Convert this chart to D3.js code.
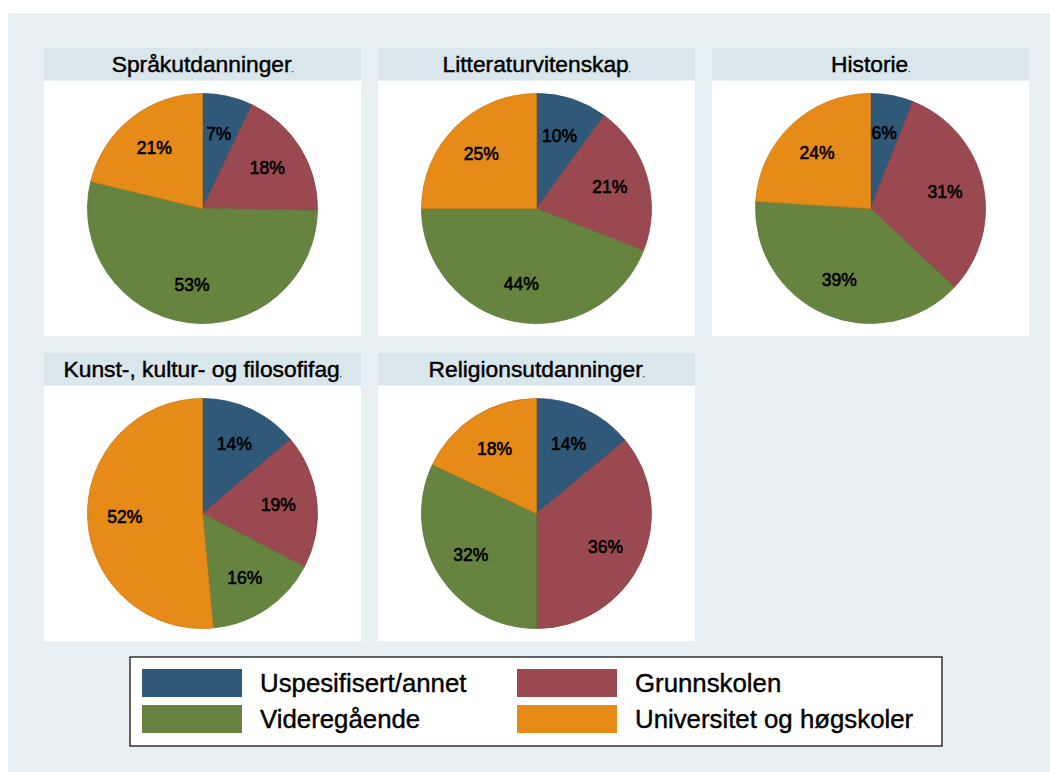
<!DOCTYPE html>
<html>
<head>
<meta charset="utf-8">
<script src="https://cdn.jsdelivr.net/npm/d3@7"></script>
<style>
  body { margin: 0; background: #fff; }
  text { font-family: Arial, "Liberation Sans", sans-serif; fill: #000; }
</style>
</head>
<body>
<svg id="chart" width="1050" height="772"></svg>
<script>
// data
const panels = ["Språkutdanninger", "Litteraturvitenskap", "Historie", "Kunst-, kultur- og filosofifag", "Religionsutdanninger"];
const categories = ["Uspesifisert/annet", "Grunnskolen", "Videregående", "Universitet og høgskoler"];
const shares = [
  [7, 18, 53, 21],
  [10, 21, 44, 25],
  [6, 31, 39, 24],
  [14, 19, 16, 52],
  [14, 36, 32, 18]
];
const colors = ["#2f5879", "#9a4950", "#66843f", "#e68a18"];

const width = 1050, height = 772;
const svg = d3.select("#chart");

// graph region
svg.append("rect")
  .attr("x", 8).attr("y", 13)
  .attr("width", width - 8).attr("height", height - 13)
  .attr("fill", "#e8f0f3");

const panelW = 317, stripH = 32, plotH = 255;
const colX = d3.scalePoint().domain([0, 1, 2]).range([44, 712]);
const rowY = d3.scalePoint().domain([0, 1]).range([48, 353]);
const color = d3.scaleOrdinal(categories, colors);

const pie = d3.pie().sort(null).value(d => d.value);
const radius = 115;
const arc = d3.arc().innerRadius(0).outerRadius(radius);
const labelArc = d3.arc().innerRadius(radius * 0.67).outerRadius(radius * 0.67);

panels.forEach((name, i) => {
  const x0 = colX(i % 3), y0 = rowY(Math.floor(i / 3));
  const g = svg.append("g").attr("transform", `translate(${x0},${y0})`);

  g.append("rect")
    .attr("width", panelW).attr("height", stripH)
    .attr("fill", "#d9e6ec");
  g.append("text")
    .attr("x", panelW / 2).attr("y", stripH / 2 + 8)
    .attr("text-anchor", "middle")
    .attr("font-size", 22.8)
    .attr("stroke", "#000").attr("stroke-width", 0.45)
    .text(name)
    .append("tspan").attr("font-size", 6).text(".");

  g.append("rect")
    .attr("y", stripH + 1)
    .attr("width", panelW).attr("height", plotH)
    .attr("fill", "#fff");

  const data = categories.map((c, j) => ({cat: c, value: shares[i][j]}));
  const arcs = pie(data);
  const pg = g.append("g")
    .attr("transform", `translate(${panelW / 2},${stripH + 1 + plotH / 2})`);

  pg.selectAll("path")
    .data(arcs)
    .join("path")
      .attr("d", arc)
      .attr("fill", d => color(d.data.cat))
      .attr("stroke", d => d3.color(color(d.data.cat)).darker(0.3))
      .attr("stroke-width", 0.8);

  pg.selectAll("text")
    .data(arcs)
    .join("text")
      .attr("transform", d => `translate(${labelArc.centroid(d)})`)
      .attr("text-anchor", "middle")
      .attr("dy", "0.36em")
      .attr("font-size", 17.5)
      .attr("stroke", "#000").attr("stroke-width", 0.6)
      .text(d => d.data.value + "%")
      .append("tspan").attr("font-size", 5).attr("stroke-width", 0).text(".");
});

// legend
const lg = svg.append("g").attr("transform", "translate(130,657)");
lg.append("rect")
  .attr("width", 812).attr("height", 89)
  .attr("fill", "#fff")
  .attr("stroke", "#000")
  .attr("stroke-width", 1.2);

const legX = d3.scalePoint().domain([0, 1]).range([12, 387]);
const legY = d3.scalePoint().domain([0, 1]).range([12, 48]);
categories.forEach((c, j) => {
  const item = lg.append("g")
    .attr("transform", `translate(${legX(j % 2)},${legY(Math.floor(j / 2))})`);
  item.append("rect")
    .attr("width", 100).attr("height", 28)
    .attr("fill", color(c));
  item.append("text")
    .attr("x", 118).attr("y", 23)
    .attr("font-size", 25.8)
    .attr("stroke", "#000").attr("stroke-width", 0.4)
    .text(c)
    .append("tspan").attr("font-size", 6).attr("stroke-width", 0).text(j === 0 ? "" : ".");
});
</script>
</body>
</html>
